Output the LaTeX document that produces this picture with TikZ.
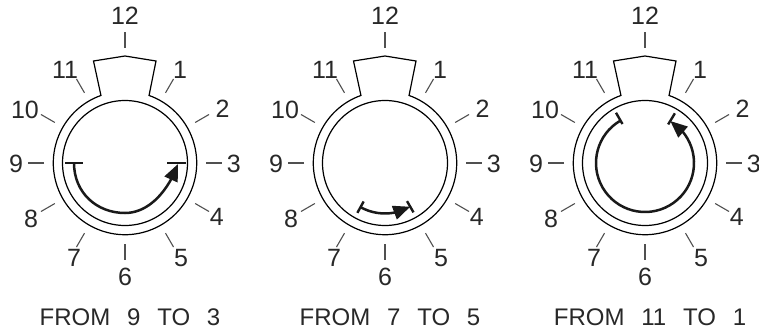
\documentclass[tikz,border=0pt]{standalone}
\usepackage{fontspec}
\setmainfont{Liberation Sans}
\usetikzlibrary{arrows.meta,bending}
\definecolor{ink}{RGB}{40,40,40}
\definecolor{tickc}{RGB}{80,80,80}
\newcommand\capgap{\hspace{0.7em}}
\tikzset{
  ring/.style={line width=1.2pt, draw=black},
  tickline/.style={line width=1.1pt, draw=tickc},
  num/.style={text=ink, font=\fontsize{25}{25}\selectfont, inner sep=0pt},
  caption/.style={text=ink, font=\fontsize{24}{24}\selectfont, inner sep=0pt},
  motion/.style={line width=2.5pt, draw=black!90, -{Triangle[length=17pt,width=14pt,flex]}},
  endbar/.style={line width=2.4pt, draw=black!90},
}
\newcommand\mydial[3]{%
  \begin{scope}[shift={(#1,172)}]
    \draw[ring] (109.6:71.7pt) arc[start angle=109.6, end angle=430.4, radius=71.7pt]
      -- (31,102) -- (0,107) -- (-31.5,102) -- cycle;
    \draw[ring] (0,0) circle[radius=62.5pt];
    \foreach \a in {0,30,60,120,150,180,210,240,270,300,330}
      \draw[tickline] (\a:81pt) -- (\a:97pt);
    \draw[tickline] (0,115) -- (0,131);
    \node[num] (#2h12) at (0,147) {12};
    \node[num] (#2h11) at (-60,93) {11};
    \node[num] (#2h1) at (55,93) {1};
    \node[num] (#2h10) at (-100,53) {10};
    \node[num] (#2h2) at (97.5,54) {2};
    \node[num] (#2h9) at (-109,-1) {9};
    \node[num] (#2h3) at (108.7,-1) {3};
    \node[num] (#2h8) at (-94,-56) {8};
    \node[num] (#2h4) at (91.7,-54) {4};
    \node[num] (#2h7) at (-51,-95) {7};
    \node[num] (#2h5) at (56,-95) {5};
    \node[num] (#2h6) at (0,-114) {6};
    \node[caption] (#2cap) at (5,-154) {#3};
  \end{scope}}
\begin{document}
\begin{tikzpicture}[x=1pt,y=1pt]
  \path[fill=white] (0,0) rectangle (759,335);
  \useasboundingbox (0,0) rectangle (759,335);
  \mydial{125}{da}{FROM\capgap 9\capgap TO\capgap 3}
  \mydial{385}{db}{FROM\capgap 7\capgap TO\capgap 5}
  \mydial{645}{dc}{FROM\capgap 11\capgap TO\capgap 1}
  % dial 1 arrow
  \begin{scope}[shift={(125,172)}]
    \draw[endbar] (-60,0) -- (-42,0);
    \draw[endbar] (42,0) -- (61,0);
    \draw[motion] (-51,0) .. controls (-51,-30) and (-28,-50) .. (0,-50)
      .. controls (25,-50) and (44,-26) .. (53,-1);
  \end{scope}
  % dial 2 arrow
  \begin{scope}[shift={(385,172)}]
    \draw[endbar] (241:44pt) -- (241:57pt);
    \draw[endbar] (300:44pt) -- (300:57pt);
    \draw[motion] (241:50.5pt) arc[start angle=241, end angle=300, radius=50.5pt];
  \end{scope}
  % dial 3 arrow
  \begin{scope}[shift={(645,172)}]
    \draw[endbar] (120:45pt) -- (120:58pt);
    \draw[endbar] (59:45pt) -- (59:58pt);
    \draw[motion] (120:49pt) arc[start angle=120, end angle=419, radius=49pt];
  \end{scope}
\end{tikzpicture}
\end{document}
